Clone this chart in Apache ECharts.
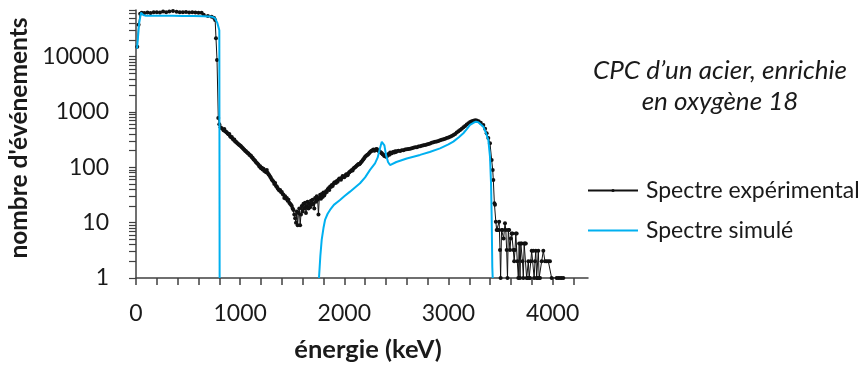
<!DOCTYPE html>
<html><head><meta charset="utf-8">
<script src="https://cdn.jsdelivr.net/npm/echarts@6/dist/echarts.min.js"></script>
<style>html,body{margin:0;padding:0;background:#fff}#c{width:863px;height:368px}</style>
</head><body><div id="c"></div>
<script>
// ---- data (energy keV, counts) ----
const xTickLabels = [0, 1000, 2000, 3000, 4000];
const yTickLabels = [1, 10, 100, 1000, 10000];

const expPlateau = [[12,15200],[25,38000],[40,60000],[55,62500],[80,62000],[110,63000],[140,62000],[170,63500],[200,64000],[230,63000],[260,65500],[290,64000],[320,66000],[355,67000],[390,65000],[420,64000],[450,63500],[480,64500],[510,63000],[540,63500],[570,63000],[600,62500],[630,62500],[650,57500],[690,54500],[727,53000],[750,50000],[760,46000],[768,21600],[778,8750],[790,780],[800,600],[812,530],[823,509]];
const expDescent = [[840,470],[848,495],[856,450],[864,440],[872,425],[880,410],[888,395],[896,400],[904,365],[912,350],[920,355],[928,330],[936,315],[944,320],[952,295],[960,290],[968,280],[976,270],[984,262],[992,255],[1000,248],[1008,240],[1016,232],[1024,225],[1032,215],[1040,208],[1048,200],[1056,196],[1064,188],[1072,182],[1080,178],[1088,170],[1096,165],[1104,162],[1112,152],[1120,150],[1128,140],[1136,136],[1144,132],[1152,124],[1160,120],[1168,116],[1176,112],[1184,104],[1192,105],[1200,96],[1208,98],[1216,92],[1224,94],[1232,86],[1240,88],[1248,82],[1256,90],[1264,80],[1272,75],[1280,72],[1288,68],[1296,64],[1304,60],[1312,58],[1320,55],[1328,50],[1336,52],[1344,46],[1352,45],[1360,42],[1368,40],[1376,38],[1384,39],[1392,36],[1400,36],[1408,33],[1416,32],[1424,28],[1432,30],[1440,27],[1448,28],[1456,25],[1464,26],[1472,23],[1480,22],[1488,21],[1496,20],[1504,18],[1512,17],[1520,14],[1528,12],[1536,10],[1544,16],[1552,9],[1560,15],[1568,18],[1576,9],[1584,14],[1592,20],[1600,16],[1608,22],[1616,18],[1624,23],[1632,15],[1640,20],[1648,24],[1656,18],[1664,22],[1672,19],[1680,25],[1688,21],[1696,26],[1704,22],[1712,18],[1720,28],[1728,24],[1736,30],[1744,26],[1752,14],[1760,28],[1768,32],[1776,27],[1784,33],[1792,29]];
const expRise = [[1800,35],[1808,31],[1816,34],[1824,37],[1832,36],[1840,40],[1848,42],[1856,39],[1864,45],[1872,44],[1880,48],[1888,46],[1896,50],[1904,53],[1912,54],[1920,52],[1928,57],[1936,55],[1944,60],[1952,63],[1960,62],[1968,60],[1976,65],[1984,70],[1992,68],[2000,66],[2008,70],[2016,74],[2024,75],[2032,72],[2040,78],[2048,82],[2056,84],[2064,86],[2072,90],[2080,88],[2088,95],[2096,98],[2104,100],[2112,104],[2120,108],[2128,110],[2136,115],[2144,114],[2152,118],[2160,124],[2168,128],[2176,135],[2184,140],[2192,148],[2200,155],[2208,160],[2216,165],[2224,170],[2232,175],[2240,182],[2248,190],[2256,195],[2264,200],[2272,205],[2280,210],[2288,200],[2296,205],[2304,212],[2312,215],[2320,205],[2328,200],[2336,195],[2344,190],[2352,185],[2360,180],[2368,172],[2376,170],[2384,160],[2392,160],[2400,155],[2408,158],[2416,168],[2424,175],[2432,170],[2440,185],[2448,178],[2456,180],[2464,188],[2472,190],[2480,186],[2488,195],[2496,190],[2504,195],[2520,200],[2536,198],[2552,205],[2568,204],[2584,210],[2600,212],[2616,215],[2632,218],[2648,222],[2664,226],[2680,230],[2696,232],[2712,238],[2728,240],[2744,245],[2760,250],[2776,255],[2792,260],[2808,265],[2824,270],[2840,278],[2856,285],[2872,290],[2888,295],[2904,300],[2920,308],[2936,315],[2952,322],[2968,330],[2984,338],[3000,345],[3016,358],[3032,370],[3048,385],[3064,400],[3080,425],[3096,450],[3112,475],[3128,500],[3144,530],[3160,560],[3176,595],[3192,630],[3208,660],[3224,680],[3240,700],[3256,710],[3272,705],[3290,680],[3310,640],[3335,585],[3352,500],[3367,414],[3383,340],[3399,273],[3415,136],[3425,90],[3431,59],[3441,22.5]];
const expTail = [[3447,21],[3455,10.4],[3463,7.4],[3471,7.4],[3479,7.4],[3487,10.4],[3495,3.2],[3501,1],[3510,7.4],[3520,7.4],[3530,5.2],[3543,9.8],[3551,7.4],[3559,3.2],[3567,1],[3575,7.4],[3583,7.4],[3591,3.2],[3599,5.2],[3607,6.4],[3615,6.4],[3623,3.2],[3631,2],[3639,3.2],[3647,6.4],[3655,6.4],[3661,2],[3671,1],[3679,4.2],[3687,1],[3695,4.2],[3703,4.2],[3711,2],[3719,1],[3727,4.2],[3735,4.2],[3743,4.2],[3751,1],[3759,1],[3767,2],[3775,1],[3783,1],[3791,2],[3799,3.1],[3815,3.1],[3823,1],[3831,2],[3839,3.1],[3847,1],[3855,1],[3863,3.1],[3871,1],[3879,1],[3895,2],[3911,3.1],[3927,2],[3943,2],[3959,2],[3975,2],[3991,1],[4039,1],[4055,1],[4071,1],[4087,1],[4103,1]];

const simLow = [[10,14000],[30,40000],[48,62700],[70,57000],[90,55300],[150,55000],[250,55200],[350,55000],[450,54800],[550,54500],[650,54000],[700,53500],[727,53100],[758,49700],[781,40900],[800,30000],[803,1]];
const simHigh = [[1757,1],[1770,2.5],[1783,4.9],[1800,8],[1815,11.2],[1840,14.5],[1863,17],[1900,21],[1959,25.7],[2000,30],[2055,36.4],[2100,43],[2151,51.7],[2200,66],[2247,90],[2295,118],[2320,150],[2343,221],[2360,290],[2370,313],[2385,250],[2400,170],[2420,125],[2439,110],[2500,125],[2600,145],[2727,168],[2820,190],[2919,221],[3000,260],[3047,292],[3100,350],[3143,414],[3180,500],[3207,585],[3240,640],[3265,670],[3290,650],[3335,545],[3360,420],[3383,313],[3399,156],[3409,51.7],[3415,12.8],[3421,1.6],[3425,1]];

const experimental = expPlateau.concat(expDescent, expRise, expTail);
const simulated = simLow.concat([[null, null]], simHigh);

const xTicks = [];
for (let v = 0; v <= 4200; v += 200) xTicks.push(v);
const yTicks = [];
for (let d = 1; d <= 10000; d *= 10) for (let k = 1; k <= 9; k++) if (d * k <= 70000) yTicks.push(d * k);

const FONT = 'Lato';
const TXT = '#1a1a1a';
const AX = '#404040';

const chart = echarts.init(document.getElementById('c'));
chart.setOption({
  animation: false,
  backgroundColor: '#fff',
  title: {
    text: 'CPC d\u2019un acier, enrichie\nen oxygène 18',
    left: 720, top: 55, textAlign: 'center', padding: 0,
    textStyle: { fontFamily: FONT, fontStyle: 'italic', fontWeight: 'normal', fontSize: 26, lineHeight: 31, color: TXT }
  },
  legend: {
    orient: 'vertical', left: 587, top: 179, padding: 0,
    itemWidth: 50, itemHeight: 4, itemGap: 17,
    textStyle: { fontFamily: FONT, fontSize: 23, color: TXT, padding: [0, 0, 0, 3] },
    data: [
      { name: 'Spectre expérimental' },
      { name: 'Spectre simulé', itemStyle: { color: 'rgba(0,0,0,0)', borderWidth: 0 } }
    ]
  },
  grid: { left: 136, right: 275, top: 10, bottom: 90, containLabel: false, outerBoundsMode: 'none' },
  xAxis: {
    type: 'value', min: 0, max: 4340,
    name: 'énergie (keV)', nameLocation: 'middle', nameGap: 59,
    nameTextStyle: { fontFamily: FONT, fontWeight: 'bold', fontSize: 25.5, color: TXT, padding: [0, 0, 0, 12] },
    axisLine: { show: true, lineStyle: { color: AX, width: 1.5 } },
    axisTick: { show: true, inside: false, length: 7, customValues: xTicks, lineStyle: { color: AX, width: 1.5 } },
    axisLabel: { customValues: xTickLabels, formatter: v => String(v), margin: 24, fontFamily: FONT, fontSize: 23, color: TXT },
    splitLine: { show: false }
  },
  yAxis: {
    type: 'log', logBase: 10, min: 1, max: 70000,
    name: "nombre d'événements", nameLocation: 'middle', nameGap: 102,
    nameTextStyle: { fontFamily: FONT, fontWeight: 'bold', fontSize: 24.5, color: TXT, padding: [0, 0, 0, 12] },
    axisLine: { show: true, lineStyle: { color: AX, width: 1.5 } },
    axisTick: { show: true, inside: false, length: 7, customValues: yTicks, lineStyle: { color: AX, width: 1.2 } },
    axisLabel: { customValues: yTickLabels, formatter: v => String(v), margin: 27, fontFamily: FONT, fontSize: 23, color: TXT },
    splitLine: { show: false }
  },
  series: [
    {
      name: 'Spectre expérimental', type: 'line', data: experimental,
      symbol: 'circle', symbolSize: 4, showSymbol: true,
      lineStyle: { color: '#111', width: 1 }, itemStyle: { color: '#111' },
      z: 2
    },
    {
      name: 'Spectre simulé', type: 'line', data: simulated,
      symbol: 'none', showSymbol: false, connectNulls: false,
      lineStyle: { color: '#00B0F0', width: 2 }, itemStyle: { color: '#00B0F0' },
      z: 3
    }
  ]
});
</script>
</body></html>
